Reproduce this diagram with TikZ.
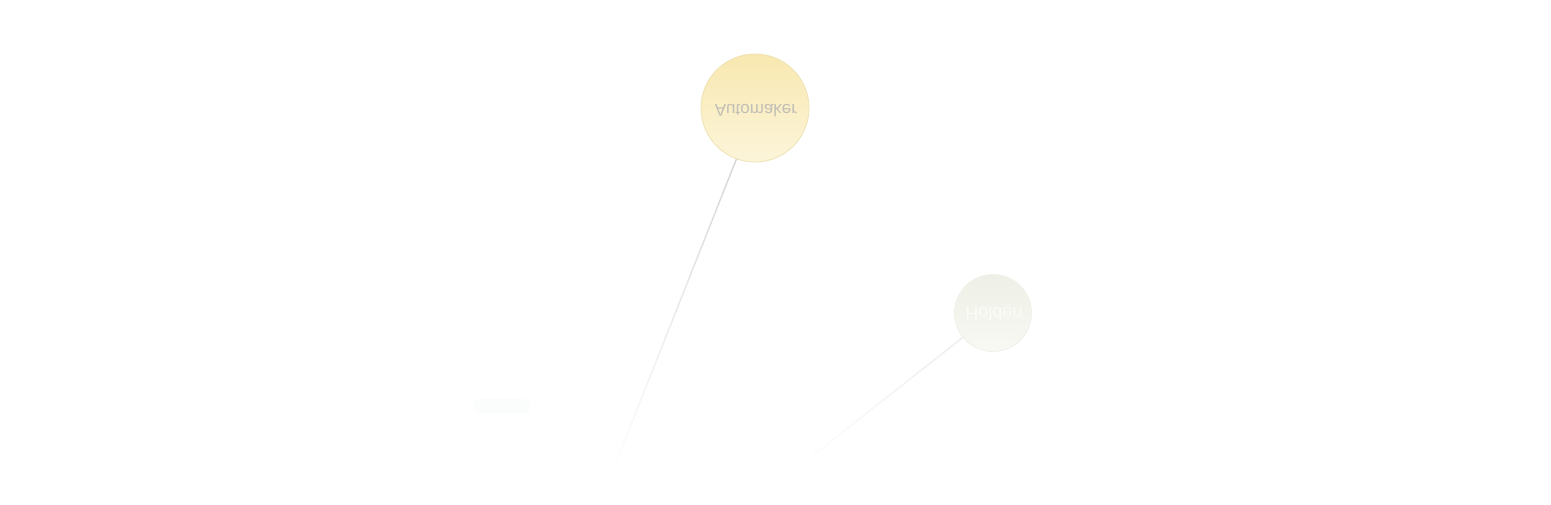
\documentclass[tikz,border=0pt]{standalone}
\usepackage{fontspec}
\setmainfont{Liberation Sans}
\usetikzlibrary{calc}
\definecolor{autotop}{HTML}{F8E8B0}
\definecolor{autobot}{HTML}{FCF5DA}
\definecolor{autoedge}{HTML}{EEE2B2}
\definecolor{holtop}{HTML}{EEEFE6}
\definecolor{holbot}{HTML}{F8F9F3}
\definecolor{holedge}{HTML}{F0F1EA}
\definecolor{autotext}{HTML}{C2BFB6}
\definecolor{holtext}{HTML}{FBFBF8}
\definecolor{blob}{HTML}{FBFCFC}
\tikzset{
  bubble/.style={circle, inner sep=0pt, line width=0.8pt},
}
\begin{document}
\begin{tikzpicture}[x=1pt,y=-1pt]
\useasboundingbox (0,0) rectangle (1551,505);
\fill[white] (0,0) rectangle (1551,505);
% faint blob
\fill[blob, rounded corners=6pt] (473,399) rectangle (530,413);
% nodes
\node[bubble, minimum size=108pt, draw=autoedge, top color=autotop, bottom color=autobot] (auto) at (755,108) {};
\node[bubble, minimum size=77pt, draw=holedge, top color=holtop, bottom color=holbot] (hold) at (993,313) {};
\node[yscale=-1, text=autotext, font=\fontsize{17}{17}\selectfont] (autolbl) at (756,111) {Automaker};
\node[yscale=-1, text=holtext, font=\fontsize{18}{18}\selectfont] (holdlbl) at (994,314) {Holden};
% free ends
\coordinate (e1) at (613,470);
\coordinate (e2) at (797,468);
% fading connectors
\foreach \i in {0,...,39}{
  \pgfmathsetmacro{\ta}{\i/40}
  \pgfmathsetmacro{\tb}{(\i+1)/40}
  \pgfmathsetmacro{\sh}{(1-\ta)*100}
  \draw[line width=1.4pt, color=black!16!white!\sh!white] ($(auto.250)!\ta!(e1)$) -- ($(auto.250)!\tb!(e1)$);
}
\foreach \i in {0,...,39}{
  \pgfmathsetmacro{\ta}{\i/40}
  \pgfmathsetmacro{\tb}{(\i+1)/40}
  \pgfmathsetmacro{\sh}{(1-\ta)*100}
  \draw[line width=1.4pt, color=black!7!white!\sh!white] ($(hold.219)!\ta!(e2)$) -- ($(hold.219)!\tb!(e2)$);
}
\end{tikzpicture}
\end{document}
